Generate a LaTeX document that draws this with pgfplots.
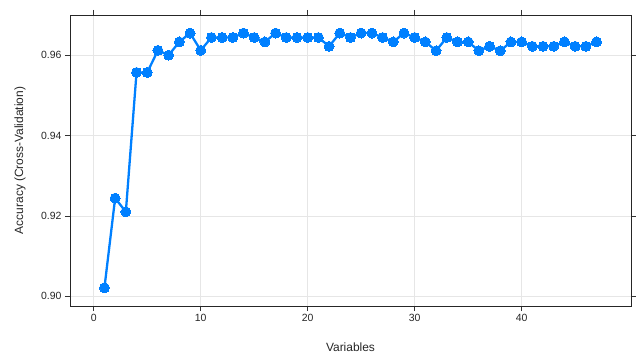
\documentclass[border=0pt]{standalone}
\usepackage{fontspec}
\setmainfont{Liberation Sans}
\usepackage{pgfplots}
\pgfplotsset{compat=1.18}
\definecolor{lblue}{HTML}{0080FF}
\definecolor{gridc}{HTML}{E6E6E6}
\begin{document}
\begin{tikzpicture}
\begin{axis}[
  at={(0,0)}, anchor=south west,
  scale only axis, width=561bp, height=291bp,
  xmin=-2.22, xmax=50.22, ymin=0.89755, ymax=0.97000,
  xtick={0,10,20,30,40}, ytick={0.90,0.92,0.94,0.96},
  yticklabel style={/pgf/number format/.cd, fixed, fixed zerofill, precision=2},
  /pgf/number format/assume math mode=true,
  tick align=outside, tick pos=both,
  major tick length=5bp,
  every tick/.style={black!80, line width=0.6pt},
  axis line style={black!85, line width=0.8pt},
  grid=major, major grid style={gridc, line width=0.6pt},
  tick label style={font=\fontsize{10.5}{12}\selectfont, black!85},
  label style={font=\fontsize{12}{14}\selectfont, black!85},
  xlabel={Variables}, ylabel={Accuracy (Cross-Validation)},
  xlabel style={at={(axis description cs:0.5,0)}, anchor=base, yshift=-45bp},
  ylabel style={at={(axis description cs:0,0.5)}, anchor=center, rotate=0, yshift=50bp},
  clip=false,
]
\addplot[lblue, line width=2.3pt, mark=*, mark size=5pt, mark options={fill=lblue, draw=lblue, line width=0pt}] coordinates {
(1,0.9021) (2,0.9244) (3,0.9210) (4,0.9557) (5,0.9557) (6,0.9612) (7,0.9600) (8,0.9633) (9,0.9655) (10,0.9612)
(11,0.9644) (12,0.9644) (13,0.9644) (14,0.9655) (15,0.9644) (16,0.9633) (17,0.9655) (18,0.9644) (19,0.9644) (20,0.9644)
(21,0.9644) (22,0.9622) (23,0.9655) (24,0.9644) (25,0.9655) (26,0.9655) (27,0.9644) (28,0.9633) (29,0.9655) (30,0.9644)
(31,0.9633) (32,0.9611) (33,0.9644) (34,0.9633) (35,0.9633) (36,0.9611) (37,0.9622) (38,0.9611) (39,0.9633) (40,0.9633)
(41,0.9622) (42,0.9622) (43,0.9622) (44,0.9633) (45,0.9622) (46,0.9622) (47,0.9633)
};
\end{axis}
\pgfresetboundingbox
\path[use as bounding box] (-70bp,-48bp) rectangle (566bp,306bp);
\end{tikzpicture}
\end{document}
